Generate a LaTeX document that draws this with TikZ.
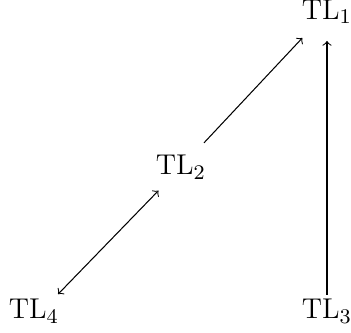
\documentclass[tikz,border=0pt]{standalone}
\begin{document}
\begin{tikzpicture}[x=0.3846pt,y=-0.3846pt,
  lbl/.style={inner sep=0pt,anchor=base,font=\fontsize{11}{13.2}\selectfont},
  arr/.style={->,>=to}]
\useasboundingbox (0,0) rectangle (351,333);
\node[lbl] (TL1) at (327,19.3) {TL$_1$};
\node[lbl] (TL2) at (181,175) {TL$_2$};
\node[lbl] (TL3) at (327,319) {TL$_3$};
\node[lbl] (TL4) at (34,319) {TL$_4$};
\draw[arr, shorten <=6.4pt, shorten >=7.3pt] (TL2) -- (TL1);
\draw[arr, shorten <=1.7pt, shorten >=6.5pt] (TL3) -- (TL1);
\draw[<->,>=to, shorten <=13.3pt, shorten >=5.8pt] (TL4.base) -- (TL2);
\end{tikzpicture}
\end{document}
